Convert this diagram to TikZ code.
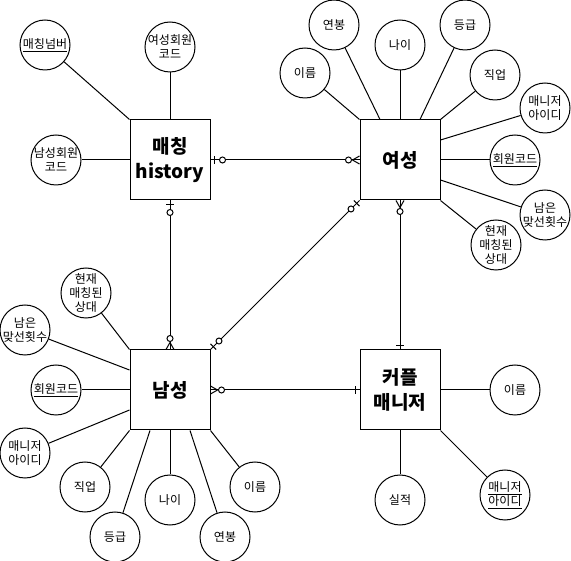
\documentclass[tikz,border=0pt]{standalone}
\usepackage{fontspec}
\setmainfont{Noto Sans CJK KR}
\usepackage{tikz}
\usetikzlibrary{decorations.markings}

\tikzset{
  entity/.style={rectangle, draw=black, minimum size=80pt, inner sep=0pt, align=center,
    font=\fontsize{19pt}{25pt}\selectfont\bfseries},
  attr/.style={circle, draw=black, minimum size=50pt, inner sep=0pt},
  lbl/.style={align=center, inner sep=0pt, font=\fontsize{12pt}{14pt}\selectfont},
  zeroone start/.style={postaction={decorate, decoration={markings,
    mark=at position 4pt with {\draw (0,-4pt) -- (0,4pt);},
    mark=at position 12pt with {\draw [fill=white] (0,0) circle (3pt);}}}},
  zeroone end/.style={postaction={decorate, decoration={markings,
    mark=at position -4pt with {\draw (0,-4pt) -- (0,4pt);},
    mark=at position -12pt with {\draw [fill=white] (0,0) circle (3pt);}}}},
  zeromany start/.style={postaction={decorate, decoration={markings,
    mark=at position 7pt with {\draw (-7pt,-4pt) -- (0,0) -- (-7pt,4pt);},
    mark=at position 11pt with {\draw [fill=white] (0,0) circle (3pt);}}}},
  zeromany end/.style={postaction={decorate, decoration={markings,
    mark=at position -7pt with {\draw (7pt,-4pt) -- (0,0) -- (7pt,4pt);},
    mark=at position -11pt with {\draw [fill=white] (0,0) circle (3pt);}}}},
  one end/.style={postaction={decorate, decoration={markings,
    mark=at position -4pt with {\draw (0,-4pt) -- (0,4pt);}}}},
}

\begin{document}
\begin{tikzpicture}[x=1pt, y=-1pt, line width=1pt]
\useasboundingbox (0,0) rectangle (571,561);
% entities
\node [entity] (H) at (170, 160) {매칭\\history};
\node [entity] (F) at (400, 160) {여성};
\node [entity] (M) at (170, 390) {남성};
\node [entity] (C) at (400, 390) {커플\\매니저};
% matching history
\node [attr, label={[lbl]center:\underline{매칭넘버}}] (H1) at (45, 45) {};
\node [attr, label={[lbl]center:여성회원\\코드}] (H2) at (170, 47) {};
\node [attr, label={[lbl]center:남성회원\\코드}] (H3) at (56, 160) {};
\draw (H.north west) -- (H1);
\draw (H.north) -- (H2);
\draw (H.west) -- (H3);
% female
\node [attr, label={[lbl]center:이름}] (F1) at (305, 73) {};
\node [attr, label={[lbl]center:연봉}] (F2) at (334, 25) {};
\node [attr, label={[lbl]center:나이}] (F3) at (400, 45) {};
\node [attr, label={[lbl]center:등급}] (F4) at (465, 25) {};
\node [attr, label={[lbl]center:직업}] (F5) at (495, 75) {};
\node [attr, label={[lbl]center:매니저\\아이디}] (F6) at (545, 108) {};
\node [attr, label={[lbl]center:\underline{회원코드}}] (F7) at (515, 160) {};
\node [attr, label={[lbl]center:남은\\맞선횟수}] (F8) at (545, 215) {};
\node [attr, label={[lbl]center:현재\\매칭된\\상대}] (F9) at (496, 245) {};
\draw (F.north west) -- (F1);
\draw ([xshift=-20pt]F.north) -- (F2);
\draw (F.north) -- (F3);
\draw ([xshift=20pt]F.north) -- (F4);
\draw (F.north east) -- (F5);
\draw ([yshift=20pt]F.east) -- (F6);
\draw (F.east) -- (F7);
\draw ([yshift=-20pt]F.east) -- (F8);
\draw (F.south east) -- (F9);
% male
\node [attr, label={[lbl]center:현재\\매칭된\\상대}] (M1) at (86, 293) {};
\node [attr, label={[lbl]center:남은\\맞선횟수}] (M2) at (25, 330) {};
\node [attr, label={[lbl]center:\underline{회원코드}}] (M3) at (56, 390) {};
\node [attr, label={[lbl]center:매니저\\아이디}] (M4) at (25, 453) {};
\node [attr, label={[lbl]center:직업}] (M5) at (85, 487) {};
\node [attr, label={[lbl]center:등급}] (M6) at (115, 537) {};
\node [attr, label={[lbl]center:나이}] (M7) at (170, 500) {};
\node [attr, label={[lbl]center:연봉}] (M8) at (225, 537) {};
\node [attr, label={[lbl]center:이름}] (M9) at (255, 487) {};
\draw (M.north west) -- (M1);
\draw ([yshift=20pt]M.west) -- (M2);
\draw (M.west) -- (M3);
\draw ([yshift=-20pt]M.west) -- (M4);
\draw (M.south west) -- (M5);
\draw ([xshift=-20pt]M.south) -- (M6);
\draw (M.south) -- (M7);
\draw ([xshift=20pt]M.south) -- (M8);
\draw (M.south east) -- (M9);
% couple manager
\node [attr, label={[lbl]center:이름}] (C1) at (515, 390) {};
\node [attr, label={[lbl]center:실적}] (C2) at (400, 500) {};
\node [attr, label={[lbl]center:\underline{매니저}\\\underline{아이디}}] (C3) at (505, 495) {};
\draw (C.east) -- (C1);
\draw (C.south) -- (C2);
\draw (C.south east) -- (C3);
% relations
\draw [zeroone start, zeromany end] (H.east) -- (F.west);
\draw [zeroone start, zeromany end] (H.south) -- (M.north);
\draw [zeroone start, zeroone end] (F.south west) -- (M.north east);
\draw [zeromany start, one end] (F.south) -- (C.north);
\draw [zeromany start, one end] (M.east) -- (C.west);
\end{tikzpicture}
\end{document}
